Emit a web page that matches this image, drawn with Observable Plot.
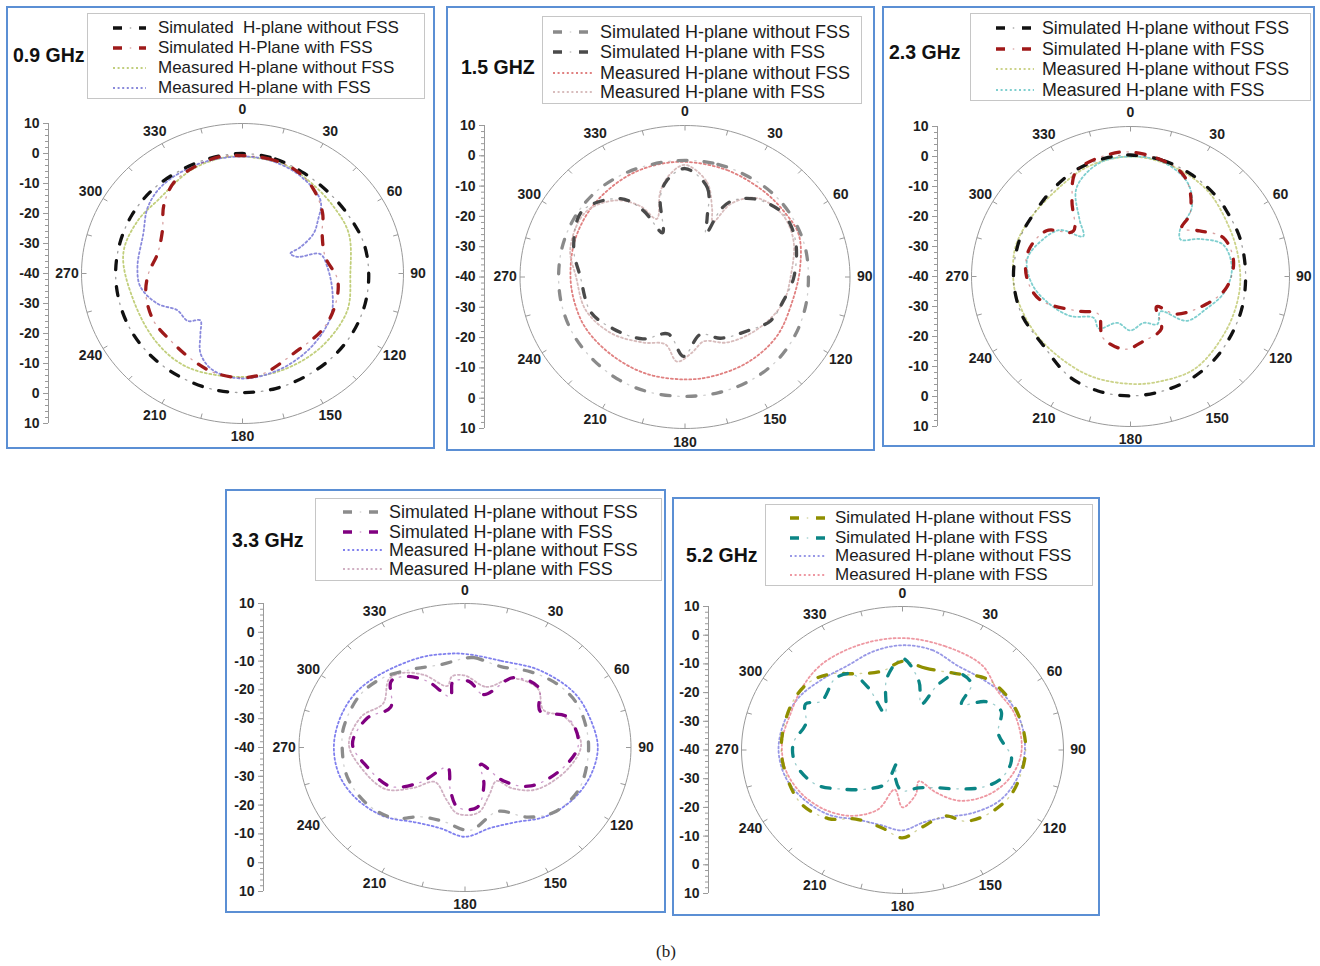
<!DOCTYPE html>
<html><head><meta charset="utf-8">
<script src="https://cdn.jsdelivr.net/npm/d3@7"></script>
<script src="https://cdn.jsdelivr.net/npm/@observablehq/plot@0.6"></script>
<style>
html,body{margin:0;padding:0;background:#fff;}
#page{position:relative;width:1320px;height:966px;font-family:"Liberation Sans",Arial,sans-serif;overflow:hidden;}
.border{position:absolute;border:2px solid #5b8fd4;box-sizing:border-box;pointer-events:none;}
.legend{position:absolute;border:1.5px solid #c6c6c6;box-sizing:border-box;background:#fff;}
.row{position:absolute;left:0;height:20px;white-space:pre;color:#1c1c1c;}
.title{position:absolute;font-weight:bold;font-size:19.5px;color:#111;white-space:pre;line-height:22px;}
.caption{position:absolute;font-family:"Liberation Serif","Times New Roman",serif;font-size:17px;color:#222;}
svg text{font-weight:bold;}
</style></head>
<body><div id="page"></div>
<script>
// ---------------- data: [angle in degrees, gain in dB] ----------------
const angleLabels = [0,30,60,90,120,150,180,210,240,270,300,330];
const dbTickLabels = [10,0,-10,-20,-30,-40];
const titles = ["0.9 GHz","1.5 GHZ","2.3 GHz","3.3 GHz","5.2 GHz"];
const legendLabels1 = ["Simulated  H-plane without FSS","Simulated H-Plane with FSS","Measured H-plane without FSS","Measured H-plane with FSS"];
const legendLabels = ["Simulated H-plane without FSS","Simulated H-plane with FSS","Measured H-plane without FSS","Measured H-plane with FSS"];

// 0.9 GHz
const f09_simNoFSS = [[0,0],[15,-0.5],[30,-1.5],[45,-2],[60,-1.8],[75,-1],[90,-0.8],[105,-0.6],[120,-0.5],[135,-0.5],[150,-0.5],[165,-0.3],[180,-0.3],[195,-0.3],[210,-0.5],[225,-0.5],[240,-0.5],[255,-0.6],[270,-0.6],[285,-0.6],[300,-0.5],[315,-0.5],[330,-0.6],[345,-0.3]];
const f09_simFSS = [[0,-0.7],[12,-0.9],[24,-1.6],[37,-4],[51,-8],[62,-12],[78,-13.7],[94,-10.4],[109,-9.4],[126,-8.9],[149,-9],[169,-6],[180,-5.3],[195,-5.8],[210,-7.4],[225,-8.4],[240,-8.2],[257,-9.2],[270,-10.8],[284,-12.8],[300,-11.3],[313,-6.6],[325,-2.9],[337,-1.5],[349,-0.5]];
const f09_measNoFSS = [[0,-1],[20,-1.5],[35,-3],[52,-4],[68,-4.4],[90,-6.5],[111,-5.2],[136,-5.4],[160,-5.5],[180,-5.5],[208,-4.4],[229,-4.8],[255,-5],[280,-2.4],[298,-3],[313,-4.1],[335,-2],[350,-1]];
const f09_measFSS = [[0,-1],[15,-1.5],[30,-3],[45,-5.7],[53,-10.7],[59,-14.3],[64,-20],[66,-23.7],[72,-22],[75,-15],[86,-13.5],[103,-11.3],[118,-9],[139,-7.5],[160,-6],[180,-5],[196,-6.5],[206,-10.3],[213,-16],[220,-19.6],[227,-16.8],[239,-16.3],[249,-11.8],[262,-8],[274,-7.3],[293,-6.5],[307,-3.2],[320,-1.5],[340,-1]];

// 1.5 GHz
const f15_simNoFSS = [[0,-1.5],[15,-1.5],[30,-1.7],[45,-1.7],[60,-2],[75,-2.3],[90,-2.6],[105,-2.2],[120,-1.5],[135,-0.8],[150,-0.5],[165,-0.5],[180,-0.6],[195,-0.5],[210,-0.6],[225,-1],[240,-1.2],[255,-1.5],[270,-1.7],[285,-1.5],[300,-1.2],[315,-1],[330,-1.2],[345,-1.5]];
const f15_simFSS = [[0,-4.2],[13,-9.8],[19,-19.4],[24,-24.5],[26,-15],[30,-10.8],[40,-6.5],[55,-3.6],[70,-4.4],[90,-7],[105,-9.2],[119,-10.3],[133,-14],[152,-17.1],[166,-20.5],[181,-13.8],[195,-20.5],[212,-15.9],[232,-12.3],[248,-9.2],[270,-8.3],[286,-4.9],[305,-2],[323,-7.6],[330,-14.6],[335,-23.9],[344,-12.8],[350,-7.8]];
const f15_measNoFSS = [[0,-2],[20,-2.5],[40,-3],[55,-3],[68,-2.8],[85,-5],[104,-6.5],[125,-6],[145,-6],[165,-6.2],[180,-6.2],[200,-6],[220,-6],[240,-5.5],[255,-5.5],[270,-5.3],[290,-4.5],[310,-3.5],[330,-2.5],[345,-2]];
const f15_measFSS = [[0,-3],[12,-8],[20,-16],[25,-20],[30,-12],[40,-6],[55,-4],[70,-5],[90,-8],[105,-9],[120,-11],[135,-13],[150,-15],[165,-18],[175,-15],[185,-12],[195,-17],[210,-15],[230,-11],[250,-8],[270,-7],[285,-4],[305,-3],[320,-7],[330,-13],[336,-19],[345,-11],[352,-6]];

// 2.3 GHz
const f23_simNoFSS = [[0,0.5],[15,0],[30,-1],[45,-2],[54,-2.7],[70,-3.3],[90,-3.8],[110,-3.3],[133,-2],[150,-1],[165,-0.5],[180,-0.2],[195,-0.5],[210,-1.5],[230,-4.2],[250,-3.5],[270,-3.2],[290,-3],[304,-3.1],[320,-2],[335,-0.5],[350,0.3]];
const f23_simFSS = [[0,1.5],[12,0.3],[24,-1.6],[32,-5.1],[42,-12.1],[45,-17.2],[55,-13.5],[66,-8.1],[81,-7.2],[97,-9.6],[111,-14.4],[131,-20.9],[141,-27],[151,-20],[169,-18.1],[184,-15.7],[203,-17.8],[219,-23.9],[236,-19.5],[255,-10.4],[270,-7.3],[285,-6.8],[300,-9.5],[310,-16.5],[324,-8.7],[334,-1],[351,1.3]];
const f23_measNoFSS = [[0,0],[20,-1],[40,-2.5],[62,-4.9],[80,-5.5],[98,-5.4],[120,-5],[146,-3.2],[165,-3.8],[180,-4.2],[200,-4.5],[220,-5],[240,-4.5],[260,-3.5],[270,-3.1],[285,-2.5],[300,-3],[320,-3],[340,-1]];
const f23_measFSS = [[0,0],[15,-0.5],[30,-4],[40,-10],[45,-18],[52,-20],[60,-15],[70,-9],[85,-8],[100,-10],[115,-14],[130,-17],[141,-25],[152,-22],[165,-24],[180,-22],[195,-24],[210,-20],[220,-22],[235,-17],[250,-13],[265,-9],[280,-7],[295,-10],[305,-13],[312,-20],[320,-15],[330,-6],[345,-1]];

// 3.3 GHz
const f33_simNoFSS = [[0,-9],[5,-8.7],[21,-9.9],[37,-7.1],[52,-4.5],[66,-3],[83,-2.8],[98,-2.8],[114,-2.8],[130,-5],[142,-9.3],[156,-15.7],[177,-11.2],[194,-13.5],[209,-12.5],[221,-7.5],[236,-4.6],[254,-3.1],[270,-3],[281,-2.8],[300,-3.5],[315,-5.5],[330,-8.6],[346,-10.3]];
const f33_simFSS = [[3,-17],[17,-20.8],[31,-11.7],[47,-9.6],[61,-14.1],[71,-7.4],[88,-5.8],[103,-9.5],[124,-16.1],[135,-23.5],[141,-32.5],[156,-26],[170,-18.9],[186,-19.1],[197,-24.8],[217,-31.3],[228,-21.9],[239,-13.8],[257,-9.8],[272,-6.1],[289,-8.8],[302,-13.6],[316,-8],[324,-9.5],[334,-14.5],[346,-21.8],[351,-16.8]];
const f33_measNoFSS = [[0,-7.5],[20,-8],[40,-5],[60,-2],[75,-1],[90,0],[105,-1],[120,-3],[135,-6],[150,-10],[165,-11],[180,-9],[195,-11],[210,-10],[225,-6],[240,-3],[255,-1],[270,-0.5],[285,-1],[300,-2],[315,-4],[337,-6],[350,-7]];
const f33_measFSS = [[0,-15],[17,-18],[31,-12],[47,-10],[61,-13],[71,-8],[88,-5],[103,-8],[124,-14],[135,-20],[141,-25],[156,-22],[170,-17],[186,-17],[197,-21],[217,-25],[228,-19],[239,-12],[257,-8],[272,-5],[289,-7],[302,-11],[316,-7],[324,-8],[334,-12],[346,-18],[351,-15]];

// 5.2 GHz
const f52_simNoFSS = [[0,-9.1],[14,-10.6],[32,-8.6],[46,-4.1],[61,-2.4],[76,-1.9],[92,-1.8],[114,-2.8],[130,-5.3],[142,-8.5],[150,-13.5],[168,-12.3],[180,-9.4],[193,-12.1],[211,-11.9],[224,-6.8],[239,-3.4],[257,-2.8],[273,-2.3],[295,-2],[309,-2.6],[320,-5.4],[331,-9.6],[347,-11.8]];
const f52_simFSS = [[0,-8.1],[12,-15.5],[20,-23],[26,-14.5],[33,-8.1],[43,-8.6],[49,-15.7],[57,-9.1],[66,-6.5],[79,-9.7],[95,-6],[108,-7.8],[118,-12.2],[128,-18],[142,-23.3],[159,-25.9],[181,-25.8],[193,-30.1],[201,-34.8],[204,-27.1],[218,-22.8],[234,-16.8],[246,-10.5],[262,-6.4],[274,-6],[287,-8.6],[298,-5.9],[304,-9.6],[320,-7.5],[329,-9],[334,-16],[337,-26.1],[349,-14.5]];
const f52_measNoFSS = [[0,-3.5],[15,-4],[30,-6],[45,-5],[60,-3],[75,-2],[90,-2],[105,-3],[120,-5],[135,-9],[150,-13],[165,-14],[180,-12],[195,-13],[210,-12],[225,-8],[240,-5],[255,-2.5],[270,-1.5],[285,-2],[300,-3],[315,-5],[330,-6],[345,-4.5]];
const f52_measFSS = [[0,-1],[20,-1.5],[40,-1.5],[55,-4],[70,-3],[90,-3],[105,-5],[120,-9],[135,-15],[145,-22],[155,-28],[165,-24],[180,-20],[190,-26],[200,-18],[215,-12],[230,-8],[245,-5],[260,-3],[275,-2.5],[290,-3],[305,-2],[320,-1],[340,-1]];

// ---------------- layout ----------------
const panels = [
  {L:6,T:6,W:429,H:443,cx:242,cy:273,rx:161,ry:150,ax:48,
   leg:{x:87,y:13,w:338,h:86,rows:[14,34,54,74],sw:25,swW:33,tx:70,fs:17},title:{x:13,y:55},labels:legendLabels1,
   series:[{d:f09_simNoFSS,c:"#111111",sim:true},{d:f09_simFSS,c:"#9e1a1a",sim:true},{d:f09_measNoFSS,c:"#c2cf7c",sim:false},{d:f09_measFSS,c:"#8a8adc",sim:false}]},
  {L:446,T:6,W:429,H:445,cx:684.5,cy:276.5,rx:165,ry:151.5,ax:484,
   leg:{x:542,y:16,w:320,h:88,rows:[15,35,56,75],sw:10,swW:41,tx:57,fs:18},title:{x:461,y:67},labels:legendLabels,
   series:[{d:f15_simNoFSS,c:"#8a8a8a",sim:true},{d:f15_simFSS,c:"#4a4a4a",sim:true},{d:f15_measNoFSS,c:"#e08080",sim:false},{d:f15_measFSS,c:"#d8bcbc",sim:false}]},
  {L:882,T:6,W:433,H:441,cx:1130,cy:276,rx:159,ry:150,ax:937,
   leg:{x:970,y:13,w:341,h:88,rows:[14,35,55,76],sw:25,swW:38,tx:71,fs:17.8},title:{x:889,y:52},labels:legendLabels,
   series:[{d:f23_simNoFSS,c:"#111111",sim:true},{d:f23_simFSS,c:"#a01818",sim:true},{d:f23_measNoFSS,c:"#ccd38a",sim:false},{d:f23_measFSS,c:"#7fcfcf",sim:false}]},
  {L:225,T:489,W:441,H:424,cx:464.5,cy:747,rx:166,ry:144,ax:263,
   leg:{x:315,y:498,w:347,h:83,rows:[13,33,51,70],sw:27,swW:40,tx:73,fs:17.9},title:{x:232,y:540},labels:legendLabels,
   series:[{d:f33_simNoFSS,c:"#8c8c8c",sim:true},{d:f33_simFSS,c:"#800080",sim:true},{d:f33_measNoFSS,c:"#8080ee",sim:false},{d:f33_measFSS,c:"#d0b0c2",sim:false}]},
  {L:672,T:497,W:428,H:419,cx:902,cy:749.5,rx:161,ry:143.5,ax:708,
   leg:{x:765,y:504,w:328,h:82,rows:[13,33,51,70],sw:24,swW:36,tx:69,fs:17},title:{x:686,y:555},labels:legendLabels,
   series:[{d:f52_simNoFSS,c:"#8f8f00",sim:true},{d:f52_simFSS,c:"#0b8585",sim:true},{d:f52_measNoFSS,c:"#9898e6",sim:false},{d:f52_measFSS,c:"#ee98a2",sim:false}]}
];

const RAD = Math.PI / 180;
const R0 = 40;          // -40 dB sits at the centre
const RMAX = 50;        // +10 dB at the outer circle
const px = d => (d[1] + R0) * Math.sin(d[0] * RAD);
const py = d => (d[1] + R0) * Math.cos(d[0] * RAD);
const SIM_DASH = "9,17", SIM_DOT = "1.5,24.5", SIM_DOT_OFF = 9.25, MEAS_DASH = "2,2.6";

const page = document.getElementById("page");
const NS = "http://www.w3.org/2000/svg";

function buildPanel(cfg, idx) {
  const {L, T, W, H, cx, cy, rx, ry, ax} = cfg;
  const kx = rx / RMAX, ky = ry / RMAX;
  const xmin = -(cx - ax) / kx;

  const labelMap = new Map();
  dbTickLabels.forEach(v => { labelMap.set(v + R0, v); labelMap.set(-(v + R0), v); });
  const majorTicks = [...labelMap.keys()].sort((a, b) => a - b);
  const minorTicks = d3.range(-RMAX, RMAX + 1, 2);

  const ring = d3.range(0, 360, 2);
  const tickAngles = d3.range(0, 360, 15);

  const marks = [
    Plot.line(ring, {x: a => RMAX * Math.sin(a * RAD), y: a => RMAX * Math.cos(a * RAD), curve: "linear-closed", stroke: "#9a9a9a", strokeWidth: 1}),
    Plot.link(tickAngles, {
      x1: a => RMAX * Math.sin(a * RAD), y1: a => RMAX * Math.cos(a * RAD),
      x2: a => (RMAX - 5 / kx) * Math.sin(a * RAD), y2: a => (RMAX - 5 / ky) * Math.cos(a * RAD),
      stroke: "#9a9a9a", strokeWidth: 1}),
    Plot.ruleX([xmin], {stroke: "#9a9a9a", strokeWidth: 1}),
    Plot.axisY({anchor: "left", ticks: minorTicks, tickSize: 3, tickFormat: () => "", stroke: "#9a9a9a", label: null}),
    Plot.axisY({anchor: "left", ticks: majorTicks, tickSize: 5, tickPadding: 4, tickFormat: d => String(labelMap.get(d)),
                stroke: "#9a9a9a", fill: "#1e1e1e", fontSize: 14, fontWeight: "bold", label: null}),
    Plot.text(angleLabels, {x: a => 54.5 * Math.sin(a * RAD), y: a => 54.5 * Math.cos(a * RAD), text: a => String(a),
                fontSize: 14, fontWeight: "bold", fill: "#1e1e1e"})
  ];
  // measured first, simulated on top
  const order = [2, 3, 0, 1];
  for (const i of order) {
    const s = cfg.series[i];
    if (s.sim) {
      marks.push(Plot.line(s.d, {x: px, y: py, curve: "catmull-rom-closed", stroke: s.c, strokeWidth: 3.3, strokeDasharray: SIM_DASH}));
      marks.push(Plot.line(s.d, {x: px, y: py, curve: "catmull-rom-closed", stroke: s.c, strokeOpacity: 0.4, strokeWidth: 1.3, strokeDasharray: SIM_DOT, strokeDashoffset: SIM_DOT_OFF}));
    } else {
      marks.push(Plot.line(s.d, {x: px, y: py, curve: "catmull-rom-closed", stroke: s.c, strokeWidth: 1.8, strokeDasharray: MEAS_DASH}));
    }
  }

  const svg = Plot.plot({
    width: W, height: H,
    marginLeft: ax - L, marginRight: (L + W) - (cx + rx),
    marginTop: (cy - ry) - T, marginBottom: (T + H) - (cy + ry),
    x: {domain: [xmin, RMAX], axis: null},
    y: {domain: [-RMAX, RMAX], axis: null},
    style: {fontFamily: "'Liberation Sans', Arial, sans-serif", fontSize: "14px", fontWeight: "bold", background: "transparent", overflow: "visible"},
    marks
  });
  svg.style.position = "absolute";
  svg.style.left = L + "px";
  svg.style.top = T + "px";
  page.appendChild(svg);

  const border = document.createElement("div");
  border.className = "border";
  Object.assign(border.style, {left: L + "px", top: T + "px", width: W + "px", height: H + "px"});
  page.appendChild(border);

  // legend
  const lg = cfg.leg;
  const box = document.createElement("div");
  box.className = "legend";
  Object.assign(box.style, {left: lg.x + "px", top: lg.y + "px", width: lg.w + "px", height: lg.h + "px"});
  cfg.series.forEach((s, i) => {
    const yc = lg.rows[i];
    const sv = document.createElementNS(NS, "svg");
    sv.setAttribute("width", lg.swW); sv.setAttribute("height", 8);
    Object.assign(sv.style, {position: "absolute", left: lg.sw + "px", top: (yc - 4) + "px", overflow: "visible"});
    const mk = (w, dash, op, off) => {
      const ln = document.createElementNS(NS, "line");
      ln.setAttribute("x1", 0); ln.setAttribute("x2", lg.swW); ln.setAttribute("y1", 4); ln.setAttribute("y2", 4);
      ln.setAttribute("stroke", s.c); ln.setAttribute("stroke-width", w); ln.setAttribute("stroke-dasharray", dash);
      ln.setAttribute("stroke-opacity", op); if (off) ln.setAttribute("stroke-dashoffset", off);
      sv.appendChild(ln);
    };
    if (s.sim) { mk(3.3, SIM_DASH, 1); mk(1.3, SIM_DOT, 0.4, SIM_DOT_OFF); }
    else mk(1.8, MEAS_DASH, 1);
    box.appendChild(sv);
    const t = document.createElement("div");
    t.className = "row";
    t.textContent = cfg.labels[i];
    Object.assign(t.style, {left: lg.tx + "px", top: (yc - 10) + "px", fontSize: lg.fs + "px", lineHeight: "20px"});
    box.appendChild(t);
  });
  page.appendChild(box);

  const ti = document.createElement("div");
  ti.className = "title";
  ti.textContent = titles[idx];
  Object.assign(ti.style, {left: cfg.title.x + "px", top: (cfg.title.y - 11) + "px"});
  page.appendChild(ti);
}

panels.forEach(buildPanel);

const cap = document.createElement("div");
cap.className = "caption";
cap.textContent = "(b)";
Object.assign(cap.style, {left: "656px", top: "942px"});
page.appendChild(cap);
</script>
</body></html>
